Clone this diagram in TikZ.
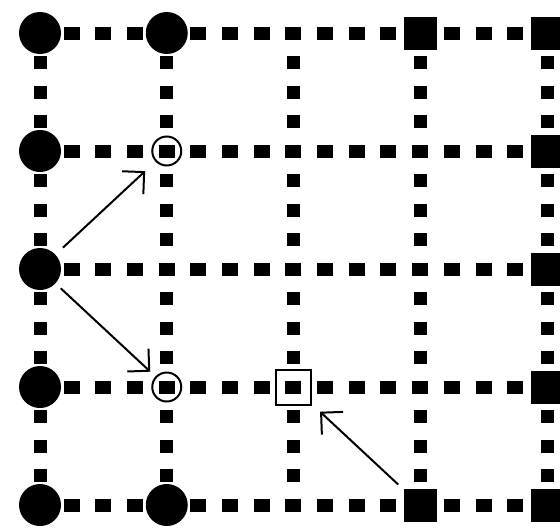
\documentclass[tikz,border=0pt]{standalone}
\usetikzlibrary{arrows.meta}

\begin{document}
\begin{tikzpicture}[x=0.5pt, y=-0.5pt,
    hline/.style={line width=6.5pt, dash pattern=on 8pt off 7.84pt, dash phase=4pt},
    vline/.style={line width=6.5pt, dash pattern=on 6.5pt off 8.25pt, dash phase=3.25pt},
    coarse/.style={circle, fill=black, inner sep=0pt, minimum size=21pt},
    fine/.style={rectangle, fill=black, inner sep=0pt, minimum size=16.5pt},
    ocirc/.style={circle, draw=black, line width=1pt, inner sep=0pt, minimum size=14.5pt},
    osq/.style={rectangle, draw=black, line width=1pt, inner sep=0pt, minimum size=17.5pt},
    link/.style={line width=1pt, -{Straight Barb[angle=90:11pt]}}
]
    \useasboundingbox (0,0) rectangle (560,530);

    % grid points
    \foreach \i in {0,...,4}
        \foreach \j in {0,...,4}
            \coordinate (g\i\j) at ({40+126.75*\i},{33+118*\j});

    % dotted grid lines
    \foreach \j in {0,...,4}
        \draw[hline] (g0\j) -- (g4\j);
    \foreach \i in {0,...,4}
        \draw[vline] (g\i0) -- (g\i4);

    % coarse points
    \foreach \j in {0,...,4}
        \node[coarse] (c0\j) at (g0\j) {};
    \node[coarse] (c10) at (g10) {};
    \node[coarse] (c14) at (g14) {};

    % fine points
    \foreach \j in {0,...,4}
        \node[fine] (f4\j) at (g4\j) {};
    \node[fine] (f30) at (g30) {};
    \node[fine] (f34) at (g34) {};

    % interpolated points
    \node[ocirc] (o11) at (g11) {};
    \node[ocirc] (o13) at (g13) {};
    \node[osq] (s23) at (g23) {};

    % transfers
    \draw[link, shorten <=5pt, shorten >=7pt] (c02) -- (o11);
    \draw[link, shorten <=3.5pt, shorten >=3.5pt] (c02) -- (o13);
    \draw[link, shorten <=3.5pt, shorten >=5.5pt] (f34) -- (s23);
\end{tikzpicture}
\end{document}
